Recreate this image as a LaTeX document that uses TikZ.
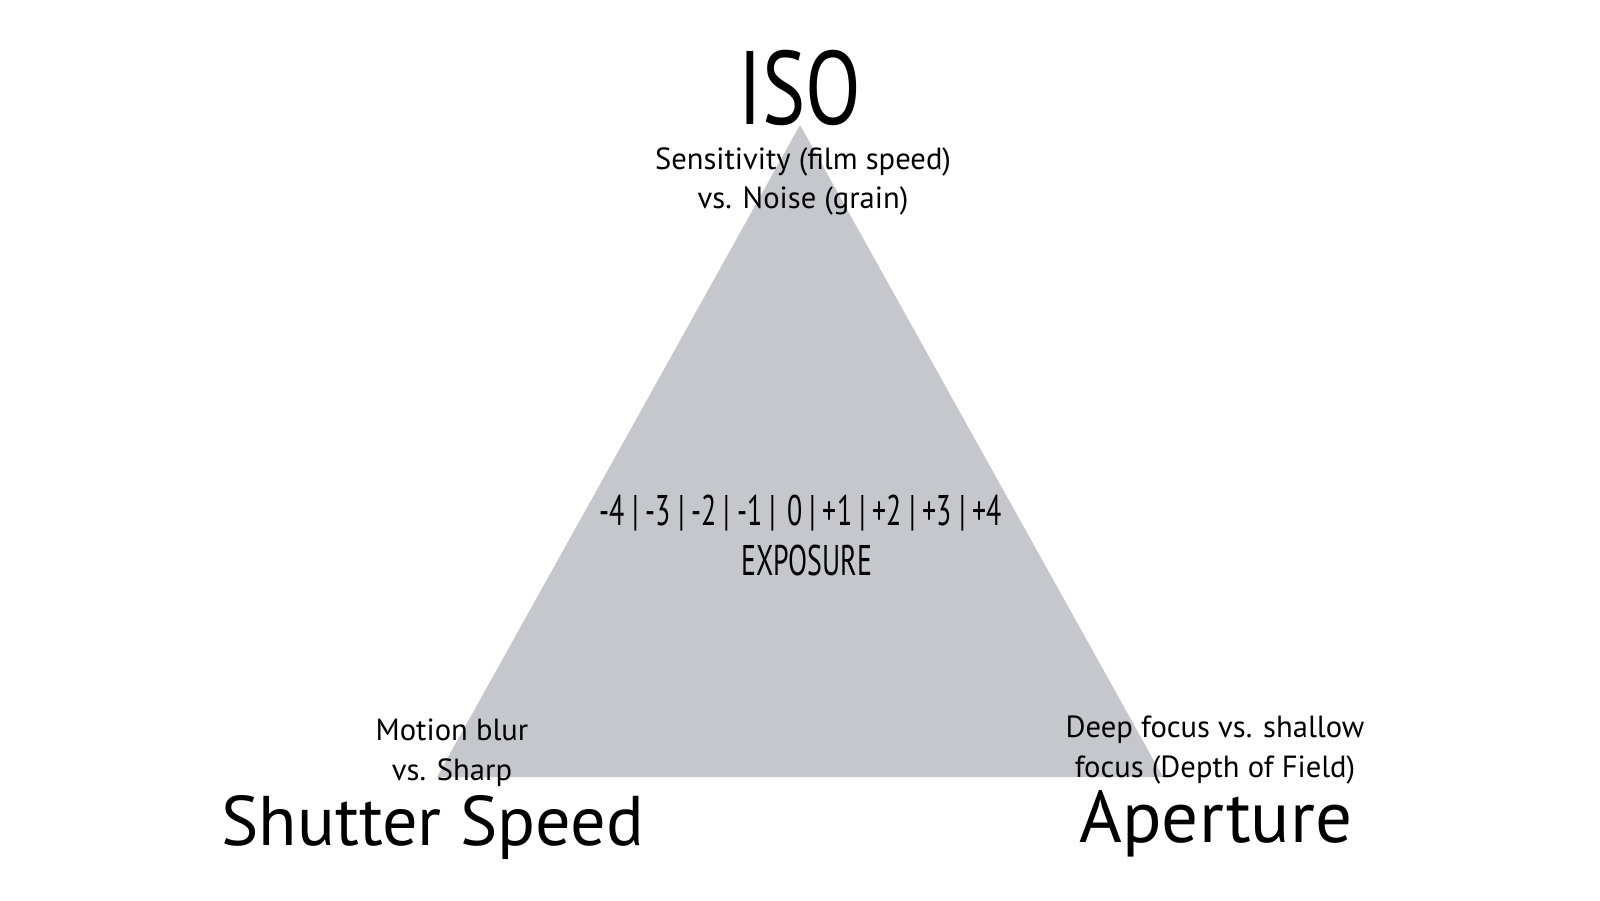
\documentclass[tikz,border=0pt]{standalone}
\usepackage{fontspec}
\setmainfont{PT Sans}
\newfontfamily\narrowfont[FakeStretch=0.78]{PT Sans}
\newfontfamily\condfont[FakeStretch=0.65]{PT Sans}
\definecolor{trigray}{RGB}{197,199,204}
\newcommand{\stopbar}{\kern2pt|\kern2pt}

\begin{document}
\begin{tikzpicture}[
    note/.style={align=center,inner sep=1pt,font=\fontsize{8.7}{11.1}\selectfont},
    big/.style={inner sep=0pt,font=\fontsize{20}{22}\selectfont},
    stopline/.style={inner sep=0pt,font=\condfont\fontsize{12.2}{14}\selectfont}]

\useasboundingbox[fill=white] (0,0) rectangle (16,9);

% the triangle
\coordinate (top)   at (8.00,7.75);
\coordinate (left)  at (4.37,1.23);
\coordinate (right) at (11.63,1.23);
\fill[trigray] (top) -- (left) -- (right) -- cycle;

% corners (base = last line)
\node[inner sep=0pt,anchor=base,font=\narrowfont\fontsize{29.7}{32}\selectfont] (iso) at (8.00,7.75) {ISO};
\node[note,anchor=base] (noise) at (8.03,6.91) {Sensitivity (film speed)\\vs. Noise (grain)};

\node[note,anchor=base] (blur) at (4.52,1.20) {Motion blur\\vs. Sharp};
\node[big,anchor=base]  (shutter) at (4.33,0.55) {Shutter Speed};

\node[note,anchor=base] (dof) at (12.15,1.23) {Deep focus vs. shallow\\focus (Depth of Field)};
\node[big,anchor=base,font=\fontsize{20.8}{22}\selectfont] (aperture) at (12.16,0.58) {Aperture};

% middle
\node[stopline,anchor=base] (stops) at (8.01,3.75) {-4\stopbar-3\stopbar-2\stopbar-1\stopbar\kern1pt 0\stopbar+1\stopbar+2\stopbar+3\stopbar+4};
\node[stopline,anchor=base] (exposure) at (8.07,3.25) {EXPOSURE};

\end{tikzpicture}
\end{document}
